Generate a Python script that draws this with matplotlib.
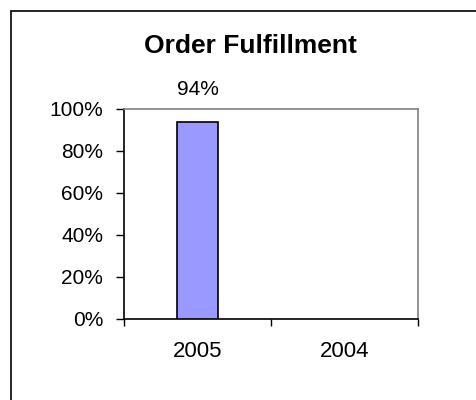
import matplotlib
matplotlib.use("Agg")
import matplotlib.pyplot as plt
from matplotlib.patches import Rectangle
from matplotlib.ticker import FixedLocator, PercentFormatter

categories = ["2005", "2004"]
values = [0.94, None]
yticks = [0, 0.2, 0.4, 0.6, 0.8, 1.0]

plt.rcParams['font.family'] = ['Liberation Sans', 'DejaVu Sans']

W, H = 477, 400
fig = plt.figure(figsize=(W / 100, H / 100), dpi=100)

# outer chart border
fig.patches.append(Rectangle((11 / W, -0.1), 1.2, 1 - 11 / H + 0.1, transform=fig.transFigure,
                             fill=False, edgecolor='black', linewidth=1.2))

ax = fig.add_axes([124 / W, 1 - 319 / H, (418 - 124) / W, (319 - 109) / H])

xs = list(range(len(categories)))
for x, v in zip(xs, values):
    if v is None:
        continue
    ax.bar(x, v, width=0.28, color='#9999FF', edgecolor='black', linewidth=1.2, zorder=3)
    ax.text(x, 1.067, f"{v * 100:.0f}%", ha='center', va='baseline', fontsize=15)

ax.set_xlim(-0.5, len(categories) - 0.5)
ax.set_ylim(0, 1.0)
ax.set_yticks(yticks)
ax.yaxis.set_major_formatter(PercentFormatter(1.0, decimals=0))
ax.tick_params(axis='y', direction='out', length=6, width=1, labelsize=15, pad=9)

ax.set_xticks(xs)
ax.set_xticklabels(categories)
ax.xaxis.set_minor_locator(FixedLocator([-0.5 + i for i in range(len(categories) + 1)]))
ax.tick_params(axis='x', which='major', length=0, labelsize=16, pad=16)
ax.tick_params(axis='x', which='minor', direction='out', length=5, width=1)

for s in ['left', 'bottom']:
    ax.spines[s].set_color('black')
    ax.spines[s].set_linewidth(1.2)
for s in ['top', 'right']:
    ax.spines[s].set_color('#808080')
    ax.spines[s].set_linewidth(1.2)

fig.text(250 / W, 1 - 53 / H, "Order Fulfillment", ha='center', va='baseline',
         fontsize=19, fontweight='bold')

fig.savefig("out.png", dpi=100)
